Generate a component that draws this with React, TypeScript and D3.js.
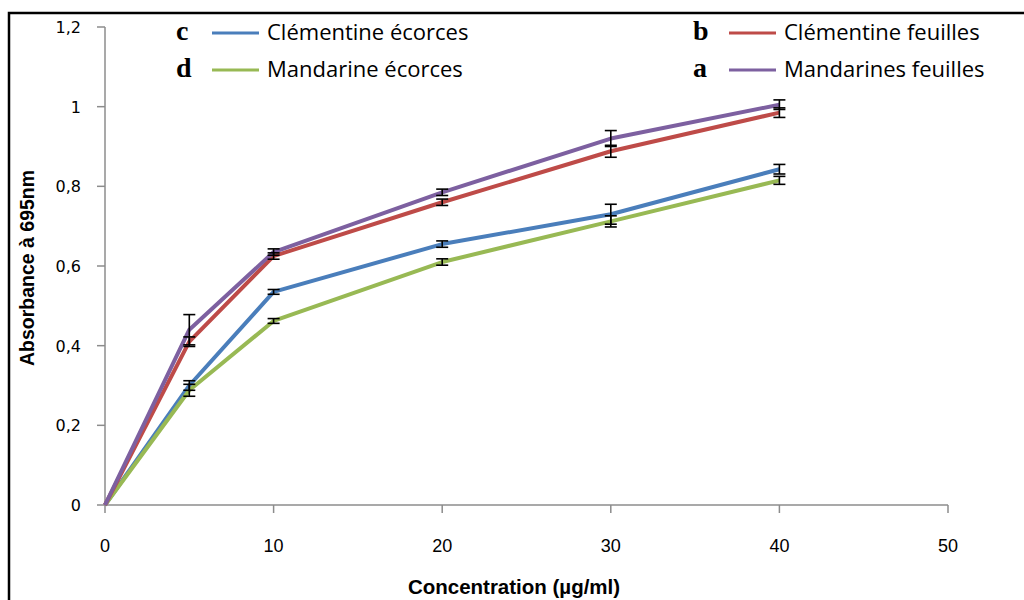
import React from 'react';
import * as d3 from 'd3';

// concentrations (µg/ml)
const concentrations = [0, 5, 10, 20, 30, 40];

const mandarinesFeuilles = [0, 0.44, 0.635, 0.785, 0.92, 1.005];
const mandarinesFeuillesErr = [0, 0.038, 0.008, 0.008, 0.02, 0.012];
const clementineFeuilles = [0, 0.41, 0.625, 0.76, 0.888, 0.985];
const clementineFeuillesErr = [0, 0.012, 0.008, 0.008, 0.015, 0.012];
const clementineEcorces = [0, 0.3, 0.535, 0.655, 0.73, 0.843];
const clementineEcorcesErr = [0, 0.012, 0.006, 0.008, 0.025, 0.012];
const mandarineEcorces = [0, 0.288, 0.462, 0.61, 0.712, 0.815];
const mandarineEcorcesErr = [0, 0.015, 0.006, 0.008, 0.014, 0.01];

const xTicks = [0, 10, 20, 30, 40, 50];
const yTicks = [0, 0.2, 0.4, 0.6, 0.8, 1, 1.2];

const series = [
  { name: 'Clémentine écorces', letter: 'c', color: '#4a7ebb', values: clementineEcorces, err: clementineEcorcesErr },
  { name: 'Mandarine écorces', letter: 'd', color: '#98b954', values: mandarineEcorces, err: mandarineEcorcesErr },
  { name: 'Clémentine feuilles', letter: 'b', color: '#be4b48', values: clementineFeuilles, err: clementineFeuillesErr },
  { name: 'Mandarines feuilles', letter: 'a', color: '#7d60a0', values: mandarinesFeuilles, err: mandarinesFeuillesErr },
];

const legendPos = [
  { x: 183, y: 33 },
  { x: 183, y: 70 },
  { x: 700, y: 33 },
  { x: 700, y: 70 },
];

const x = d3.scaleLinear().domain([0, 50]).range([105, 948]);
const y = d3.scaleLinear().domain([0, 1.2]).range([505, 27]);

const fmt = (v: number) => String(+v.toFixed(1)).replace('.', ',');

export default function App() {
  const line = d3.line<number>().x((_, i) => x(concentrations[i])).y(d => y(d));
  const axisColor = '#8c8c8c';
  const narrow = 'Liberation Sans Narrow, Liberation Sans';

  return (
    <svg width={1024} height={600} style={{ position: 'absolute', left: 0, top: 0, background: '#fff' }}>
      {/* frame */}
      <path d="M9,600 V13 H1024" fill="none" stroke="#000" strokeWidth={2.5} />

      {/* y axis */}
      <line x1={x(0)} x2={x(0)} y1={y(0)} y2={y(1.2)} stroke={axisColor} strokeWidth={1.5} />
      {yTicks.map(t => (
        <g key={'y' + t}>
          <line x1={x(0) - 8} x2={x(0)} y1={y(t)} y2={y(t)} stroke={axisColor} strokeWidth={1.5} />
          <text x={x(0) - 24} y={y(t) + 6} textAnchor="end" fontFamily="DejaVu Sans" fontSize={16} fill="#000">
            {fmt(t)}
          </text>
        </g>
      ))}

      {/* x axis */}
      <line x1={x(0)} x2={x(50)} y1={y(0)} y2={y(0)} stroke={axisColor} strokeWidth={1.5} />
      {xTicks.map(t => (
        <g key={'x' + t}>
          <line x1={x(t)} x2={x(t)} y1={y(0)} y2={y(0) + 8} stroke={axisColor} strokeWidth={1.5} />
          <text x={x(t)} y={y(0) + 47} textAnchor="middle" fontFamily={narrow} fontSize={18} fill="#000">
            {t}
          </text>
        </g>
      ))}

      {/* axis titles */}
      <text x={514} y={594} textAnchor="middle" fontFamily={narrow} fontWeight="bold" fontSize={20.5} fill="#000">
        Concentration (µg/ml)
      </text>
      <text transform="translate(34,268) rotate(-90)" textAnchor="middle" fontFamily={narrow} fontWeight="bold" fontSize={19.5} fill="#000">
        Absorbance à 695nm
      </text>

      {/* lines */}
      {series.map(s => (
        <path key={s.name} d={line(s.values) || ''} fill="none" stroke={s.color} strokeWidth={4} strokeLinejoin="round" />
      ))}

      {/* error bars */}
      {series.map(s =>
        s.values.map((v, i) =>
          s.err[i] > 0 ? (
            <g key={s.name + i} stroke="#000" strokeWidth={1.6}>
              <line x1={x(concentrations[i])} x2={x(concentrations[i])} y1={y(v - s.err[i])} y2={y(v + s.err[i])} />
              <line x1={x(concentrations[i]) - 6} x2={x(concentrations[i]) + 6} y1={y(v - s.err[i])} y2={y(v - s.err[i])} />
              <line x1={x(concentrations[i]) - 6} x2={x(concentrations[i]) + 6} y1={y(v + s.err[i])} y2={y(v + s.err[i])} />
            </g>
          ) : null
        )
      )}

      {/* legend */}
      {series.map((s, i) => {
        const p = legendPos[i];
        return (
          <g key={'lg' + s.name}>
            <text x={p.x - 7} y={p.y + 7} fontFamily="Liberation Serif" fontWeight="bold" fontSize={28} fill="#000">
              {s.letter}
            </text>
            <line x1={p.x + 29} x2={p.x + 76} y1={p.y} y2={p.y} stroke={s.color} strokeWidth={3} />
            <text x={p.x + 84} y={p.y + 7} fontFamily="Open Sans" fontSize={22} fill="#000">
              {s.name}
            </text>
          </g>
        );
      })}
    </svg>
  );
}
